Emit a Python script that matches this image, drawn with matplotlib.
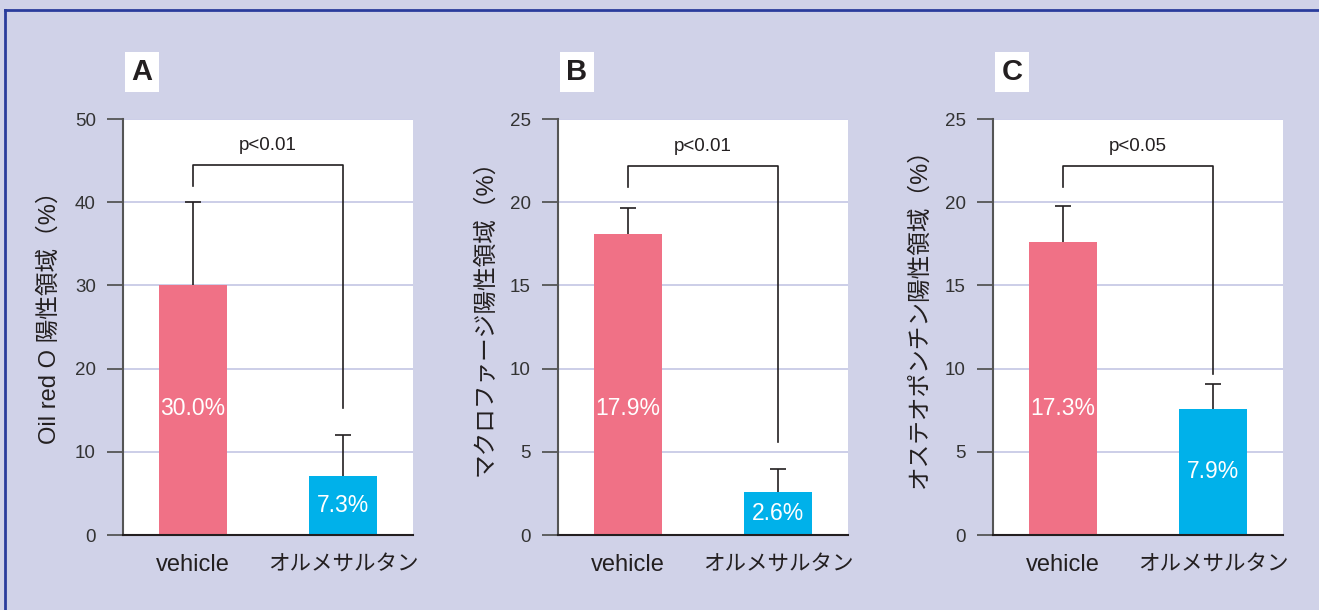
#!/usr/bin/python3

"""Three bar panels: positive area, vehicle vs olmesartan."""

import matplotlib
matplotlib.use('Agg')
import matplotlib.pyplot as plt
from matplotlib.lines import Line2D

FONTS = ['Liberation Sans', 'Noto Sans CJK JP']
plt.rcParams['font.family'] = FONTS

GROUPS = ['vehicle', 'オルメサルタン']

A_MEANS = [30.0, 7.1]
A_ERR = [10.0, 4.9]
A_TEXT = ['30.0%', '7.3%']
A_BRACKET = [42.0, 44.5, 15.3]   # left leg end, top, right leg end
A_P = 'p<0.01'
A_YLABEL = 'Oil red O 陽性領域（%）'
A_YMAX = 50
A_YTICKS = [0, 10, 20, 30, 40, 50]

B_MEANS = [18.1, 2.6]
B_ERR = [1.55, 1.35]
B_TEXT = ['17.9%', '2.6%']
B_BRACKET = [20.9, 22.2, 5.6]
B_P = 'p<0.01'
B_YLABEL = 'マクロファージ陽性領域（%）'
B_YMAX = 25
B_YTICKS = [0, 5, 10, 15, 20, 25]

C_MEANS = [17.6, 7.6]
C_ERR = [2.2, 1.45]
C_TEXT = ['17.3%', '7.9%']
C_BRACKET = [20.9, 22.2, 9.7]
C_P = 'p<0.05'
C_YLABEL = 'オステオポンチン陽性領域（%）'
C_YMAX = 25
C_YTICKS = [0, 5, 10, 15, 20, 25]

BG = '#d0d2e8'
GRID = '#c4c6e4'
INK = '#231f20'
COLORS = ['#f07186', '#00b1ea']


def draw_panel(ax, letter, means, errs, texts, bracket, p_text, ylabel, ymax, yticks):
    x = [0, 1]
    ax.set_facecolor('white')
    ax.set_xlim(-0.466, 1.466)
    ax.set_ylim(0, ymax)
    ax.set_yticks(yticks)
    ax.grid(axis='y', color=GRID, lw=1.2, zorder=0)
    ax.set_axisbelow(True)

    ax.bar(x, means, width=0.45, color=COLORS, zorder=2)
    _, caps, _ = ax.errorbar(x, means, yerr=[[0, 0], errs], fmt='none',
                             ecolor=INK, elinewidth=1.2, capsize=6,
                             capthick=1.2, zorder=3)
    caps[0].set_visible(False)   # upper error only

    # value labels inside the bars
    ax.text(0, 0.305 * ymax, texts[0], ha='center', va='center',
            color='white', fontsize=16.5, zorder=4)
    ax.text(1, means[1] / 2, texts[1], ha='center', va='center',
            color='white', fontsize=16.5, zorder=4)

    # significance bracket
    left_end, top, right_end = bracket
    ax.add_line(Line2D([0, 0, 1, 1], [left_end, top, top, right_end],
                       color=INK, lw=1.2, zorder=3))
    ax.text(0.5, top + ymax * 0.025, p_text, ha='center', va='bottom',
            color=INK, fontsize=13.5)

    for side in ['top', 'right']:
        ax.spines[side].set_visible(False)
    ax.spines['left'].set_color('#555555')
    ax.spines['left'].set_linewidth(1.5)
    ax.spines['bottom'].set_color(INK)
    ax.spines['bottom'].set_linewidth(1.5)

    ax.tick_params(axis='y', direction='out', length=11.5, width=1.3,
                   color='#555555', labelsize=13.5, labelcolor='#333333', pad=8)
    ax.tick_params(axis='x', length=0, labelsize=17, labelcolor=INK, pad=14)
    ax.set_xticks(x)
    ax.set_xticklabels(GROUPS)
    ax.get_xticklabels()[1].set_fontsize(15.5)
    ax.set_ylabel(ylabel, fontsize=17, color=INK, labelpad=10)
    ax.yaxis.label.set_y(0.536)

    ax.text(0.0655, 1.113, letter, transform=ax.transAxes, ha='center',
            va='center', fontsize=21, fontweight='bold', color=INK,
            bbox=dict(boxstyle='square,pad=0.22', fc='white', ec='none'))


def main():
    fig = plt.figure(figsize=(13.19, 6.10), dpi=100, facecolor=BG)
    # frame lines along top and left edge
    fig.add_artist(Line2D([0.0038, 1], [0.9836, 0.9836], color='#2a3c9c',
                          lw=2, transform=fig.transFigure))
    fig.add_artist(Line2D([0.0038, 0.0038], [0, 0.9836], color='#2a3c9c',
                          lw=2, transform=fig.transFigure))

    width = 290 / 1319
    height = 416 / 610
    bottom = 75 / 610
    ax_a = fig.add_axes([123 / 1319, bottom, width, height])
    ax_b = fig.add_axes([558 / 1319, bottom, width, height])
    ax_c = fig.add_axes([993 / 1319, bottom, width, height])

    draw_panel(ax_a, 'A', A_MEANS, A_ERR, A_TEXT, A_BRACKET, A_P,
               A_YLABEL, A_YMAX, A_YTICKS)
    draw_panel(ax_b, 'B', B_MEANS, B_ERR, B_TEXT, B_BRACKET, B_P,
               B_YLABEL, B_YMAX, B_YTICKS)
    draw_panel(ax_c, 'C', C_MEANS, C_ERR, C_TEXT, C_BRACKET, C_P,
               C_YLABEL, C_YMAX, C_YTICKS)

    fig.savefig('out.png', dpi=100, facecolor=BG)


if __name__ == '__main__':
    main()
